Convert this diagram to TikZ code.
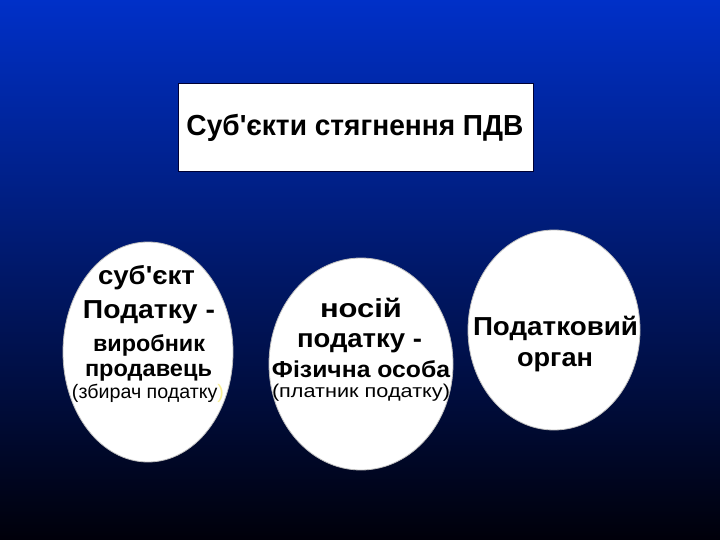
\documentclass[tikz,border=0pt]{standalone}
\usepackage{graphicx}
\usepackage{fontspec}
\setmainfont{Liberation Sans}[Ligatures=TeXOff]
\definecolor{bgtop}{RGB}{0,48,200}
\definecolor{bgbot}{RGB}{0,0,10}
\definecolor{faintyel}{RGB}{250,240,150}
\newcommand\fitw[2]{\resizebox{#1}{\height}{#2}}
\begin{document}
\begin{tikzpicture}[x=1pt,y=-1pt,
  oval/.style={draw=gray!50,line width=0.8pt,fill=white},
  txt/.style={anchor=base,inner sep=0pt},
  b25/.style={txt,font=\bfseries\fontsize{26}{29}\selectfont},
  b22/.style={txt,font=\bfseries\fontsize{23}{26}\selectfont},
  r19/.style={txt,font=\fontsize{19.5}{22}\selectfont}]
\useasboundingbox (0,0) rectangle (720,540);
\shade[top color=bgtop,bottom color=bgbot] (0,0) rectangle (720,540);
% title
\node[draw=black!80!blue,fill=white,line width=0.8pt,minimum width=355pt,minimum height=88pt,inner sep=0pt] (title) at (355.5,127) {};
\node[txt,font=\bfseries\fontsize{29}{32}\selectfont] (titletext) at (355,136) {\fitw{337pt}{Суб'єкти стягнення ПДВ}};
% ellipses
\draw[oval] (148,352) ellipse [x radius=85, y radius=110];
\draw[oval] (361,364) ellipse [x radius=92, y radius=106];
\draw[oval] (554,330) ellipse [x radius=86, y radius=100];
\coordinate (e1) at (148,352);
\coordinate (e2) at (361,364);
\coordinate (e3) at (554,330);
% left text
\node[b25] (l1) at (146.5,284) {\fitw{97pt}{суб'єкт}};
\node[b25] (l2) at (149,318) {\fitw{132pt}{Податку -}};
\node[b22] (l3) at (149,351) {\fitw{112pt}{виробник}};
\node[b22] (l4) at (148.5,376) {\fitw{127pt}{продавець}};
\node[r19] (l5) at (148,398) {\fitw{152pt}{(збирач податку\textcolor{faintyel}{)}}};
% middle text
\node[b25] (m1) at (361,317) {\fitw{82pt}{носій}};
\node[b25] (m2) at (359.5,347) {\fitw{125pt}{податку -}};
\node[b22] (m3) at (361,377) {\fitw{178pt}{Фізична особа}};
\node[r19,font=\fontsize{18.5}{21}\selectfont] (m4) at (361,397) {\fitw{178pt}{(платник податку)}};
% right text
\node[b25] (r1) at (555.5,335) {\fitw{165pt}{Податковий}};
\node[b25] (r2) at (555,366) {\fitw{76pt}{орган}};
\end{tikzpicture}
\end{document}
